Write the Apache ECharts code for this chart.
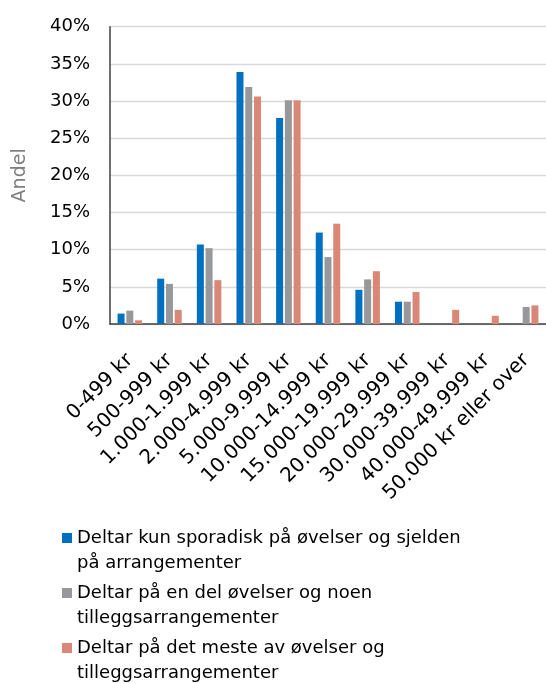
<!DOCTYPE html>
<html>
<head>
<meta charset="utf-8">
<script src="https://cdn.jsdelivr.net/npm/echarts@6/dist/echarts.min.js"></script>
<style>
html,body{margin:0;padding:0;background:#fff;}
#chart{width:546px;height:684px;}
</style>
</head>
<body>
<div id="chart"></div>
<script>
const categories = ['0-499 kr','500-999 kr','1.000-1.999 kr','2.000-4.999 kr','5.000-9.999 kr','10.000-14.999 kr','15.000-19.999 kr','20.000-29.999 kr','30.000-39.999 kr','40.000-49.999 kr','50.000 kr eller over'];
const seriesNames = [
  'Deltar kun sporadisk på øvelser og sjelden på arrangementer',
  'Deltar på en del øvelser og noen tilleggsarrangementer',
  'Deltar på det meste av øvelser og tilleggsarrangementer'
];
const sporadisk = [1.4, 6.1, 10.7, 33.9, 27.7, 12.3, 4.6, 3.0, 0, 0, 0];
const enDel = [1.8, 5.4, 10.2, 31.9, 30.1, 9.0, 6.0, 3.0, 0, 0, 2.3];
const meste = [0.5, 1.9, 5.9, 30.6, 30.1, 13.5, 7.1, 4.3, 1.9, 1.1, 2.5];
const yTicks = [0, 5, 10, 15, 20, 25, 30, 35, 40];

const colors = ['#0070C0', '#97989C', '#D98878'];
const FONT = 'DejaVu Sans';
const chart = echarts.init(document.getElementById('chart'), null, {renderer: 'canvas'});

function wrapName(n) {
  // leading empty line keeps the square marker beside the first text line
  return '\n' + n.replace(' på arrangementer', '\npå arrangementer').replace(' tilleggsarrangementer', '\ntilleggsarrangementer');
}
const legendTops = [500.5, 555.5, 610.5];
const legends = seriesNames.map((n, i) => ({
  data: [n],
  orient: 'vertical',
  left: 62,
  top: legendTops[i],
  padding: 0,
  itemWidth: 10,
  itemHeight: 10,
  icon: 'rect',
  selectedMode: false,
  formatter: wrapName,
  textStyle: {fontFamily: FONT, fontSize: 18, color: '#000', lineHeight: 25}
}));

const dataSets = [sporadisk, enDel, meste];
chart.setOption({
  animation: false,
  color: colors,
  legend: legends,
  grid: {left: 110, right: 0, top: 26.7, bottom: 360, containLabel: false},
  xAxis: {
    type: 'category',
    data: categories,
    axisLine: {lineStyle: {color: '#404040', width: 1.5}},
    axisTick: {show: false},
    axisLabel: {rotate: 45, interval: 0, margin: 33, fontFamily: FONT, fontSize: 20, color: '#000'}
  },
  yAxis: {
    type: 'value',
    min: yTicks[0], max: yTicks[yTicks.length - 1], interval: 5,
    name: 'Andel',
    nameLocation: 'middle',
    nameGap: 80,
    nameTextStyle: {fontFamily: FONT, fontSize: 19, color: '#7f7f7f'},
    axisLine: {show: true, lineStyle: {color: '#404040', width: 1.5}},
    axisTick: {show: false},
    axisLabel: {margin: 20, fontFamily: FONT, fontSize: 18, color: '#000', formatter: v => v + '%'},
    splitLine: {lineStyle: {color: '#d9d9d9', width: 1.3}}
  },
  series: seriesNames.map((n, i) => ({
    name: n,
    type: 'bar',
    data: dataSets[i],
    barWidth: 7,
    barGap: '25%',
    itemStyle: {color: colors[i]}
  }))
});
</script>
</body>
</html>
